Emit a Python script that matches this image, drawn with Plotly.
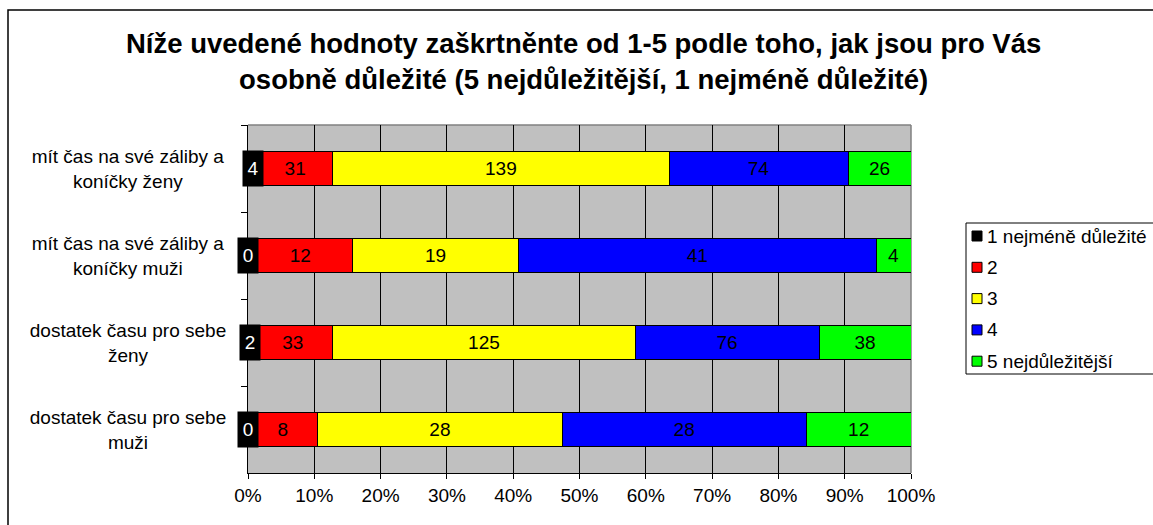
import plotly.graph_objects as go

# ---------------- data ----------------
categories = [
    "mít čas na své záliby a<br>koníčky ženy",
    "mít čas na své záliby a<br>koníčky muži",
    "dostatek času pro sebe<br>ženy",
    "dostatek času pro sebe<br>muži",
]
series_names = ["1 nejméně důležité", "2", "3", "4", "5 nejdůležitější"]
s1 = [4, 0, 2, 0]
s2 = [31, 12, 33, 8]
s3 = [139, 19, 125, 28]
s4 = [74, 41, 76, 28]
s5 = [26, 4, 38, 12]
x_tick_vals = [0, 10, 20, 30, 40, 50, 60, 70, 80, 90, 100]
x_tick_text = ["0%", "10%", "20%", "30%", "40%", "50%", "60%", "70%", "80%", "90%", "100%"]
title_text = ("Níže uvedené hodnoty zaškrtněnte od 1-5 podle toho, jak jsou pro Vás<br>"
              "osobně důležité (5 nejdůležitější, 1 nejméně důležité)")

# ---------------- style ----------------
colors = ["#000000", "#FF0000", "#FFFF00", "#0000FF", "#00FF00"]
FONT = "Arial, Liberation Sans, sans-serif"
W, H = 1153, 525
ML, MR, MT, MB = 248, 242, 125, 52
PW, PH = W - ML - MR, H - MT - MB


def px_x(px):
    return (px - ML) / PW


def px_y(py):
    return (H - MB - py) / PH


all_series = [s1, s2, s3, s4, s5]

fig = go.Figure()
for name, vals, col in zip(series_names, all_series, colors):
    is_black = col == "#000000"
    fig.add_trace(go.Bar(
        name=name,
        y=categories,
        x=vals,
        orientation="h",
        marker=dict(color=col, line=dict(color="#000000", width=1)),
        text=[str(v) for v in vals],
        textposition="none" if is_black else "inside",
        insidetextanchor="middle",
        textangle=0,
        constraintext="none",
        insidetextfont=dict(family=FONT, size=19, color="#000000"),
        showlegend=False,
        hoverinfo="skip",
    ))

annotations = []
# labels for the first (black) series, as in the original: white text on black boxes
for cat, v1, row in zip(categories, s1, zip(*all_series)):
    total = sum(row)
    annotations.append(dict(
        x=v1 / total * 100 / 2, y=cat, xref="x", yref="y",
        text=str(v1), showarrow=False,
        font=dict(family=FONT, size=19, color="#FFFFFF"),
        bgcolor="#000000", width=20, height=35, borderpad=0,
        xanchor="center", yanchor="middle",
    ))

# category labels (centered multi-line)
for cat in categories:
    annotations.append(dict(
        x=px_x(236), y=cat, xref="paper", yref="y",
        text=cat, showarrow=False, align="center", width=212,
        xanchor="right", yanchor="middle",
        font=dict(family=FONT, size=19, color="#000000"),
    ))

# title
annotations.append(dict(
    x=px_x(583), y=px_y(62), xref="paper", yref="paper",
    text="<b>" + title_text + "</b>", showarrow=False, align="center",
    xanchor="center", yanchor="middle",
    font=dict(family=FONT, size=27.5, color="#000000"),
))

shapes = []
# outer chart frame (extends beyond the window on right/bottom)
shapes.append(dict(type="rect", xref="paper", yref="paper",
                   x0=px_x(8), x1=px_x(1170), y0=px_y(540), y1=px_y(10),
                   line=dict(color="#000000", width=1.5), fillcolor="rgba(0,0,0,0)",
                   layer="below"))
# plot-area gray border (top and right)
shapes.append(dict(type="line", xref="paper", yref="paper", x0=0, x1=1, y0=1, y1=1,
                   line=dict(color="#808080", width=1.5), layer="below"))
shapes.append(dict(type="line", xref="paper", yref="paper", x0=1, x1=1, y0=0, y1=1,
                   line=dict(color="#808080", width=1.5), layer="below"))

# legend (manual, Excel style, box runs off the right window edge)
leg_left, leg_top, leg_bottom = 966, 223, 374
shapes.append(dict(type="rect", xref="paper", yref="paper",
                   x0=px_x(leg_left), x1=px_x(1175), y0=px_y(leg_bottom), y1=px_y(leg_top),
                   line=dict(color="#000000", width=1), fillcolor="#FFFFFF", layer="above"))
item_y0, item_step = 236, 31.3
for i, (name, col) in enumerate(zip(series_names, colors)):
    cy = item_y0 + i * item_step
    shapes.append(dict(type="rect", xref="paper", yref="paper",
                       x0=px_x(972), x1=px_x(982), y0=px_y(cy + 5), y1=px_y(cy - 5),
                       line=dict(color="#000000", width=1), fillcolor=col, layer="above"))
    annotations.append(dict(
        x=px_x(985), y=px_y(cy), xref="paper", yref="paper",
        text=name, showarrow=False, xanchor="left", yanchor="middle",
        font=dict(family=FONT, size=19, color="#000000"),
    ))

fig.update_layout(
    width=W, height=H,
    margin=dict(l=ML, r=MR, t=MT, b=MB, pad=0, autoexpand=False),
    paper_bgcolor="#FFFFFF",
    plot_bgcolor="#C0C0C0",
    barmode="stack",
    barnorm="percent",
    bargap=0.6,
    showlegend=False,
    annotations=annotations,
    shapes=shapes,
    font=dict(family=FONT, size=19, color="#000000"),
)
fig.update_xaxes(
    range=[0, 100],
    tickvals=x_tick_vals, ticktext=x_tick_text,
    ticks="outside", ticklen=5, tickcolor="#000000", tickwidth=1,
    showline=True, linecolor="#000000", linewidth=1,
    showgrid=False,
    minor=dict(tickvals=x_tick_vals[1:-1], showgrid=True, gridcolor="#000000", gridwidth=1, ticks=""),
    zeroline=False,
    tickfont=dict(family=FONT, size=19, color="#000000"),
    fixedrange=True,
)
fig.update_yaxes(
    type="category",
    categoryorder="array", categoryarray=categories,
    autorange="reversed",
    showticklabels=False,
    ticks="outside", ticklen=6, tickcolor="#000000", tickson="boundaries",
    showline=True, linecolor="#000000", linewidth=1,
    showgrid=False, zeroline=False,
    fixedrange=True,
)

fig.write_html(
    "out.html",
    config={"displayModeBar": False},
    post_script="document.body.style.margin='0';document.body.style.overflow='hidden';",
)
